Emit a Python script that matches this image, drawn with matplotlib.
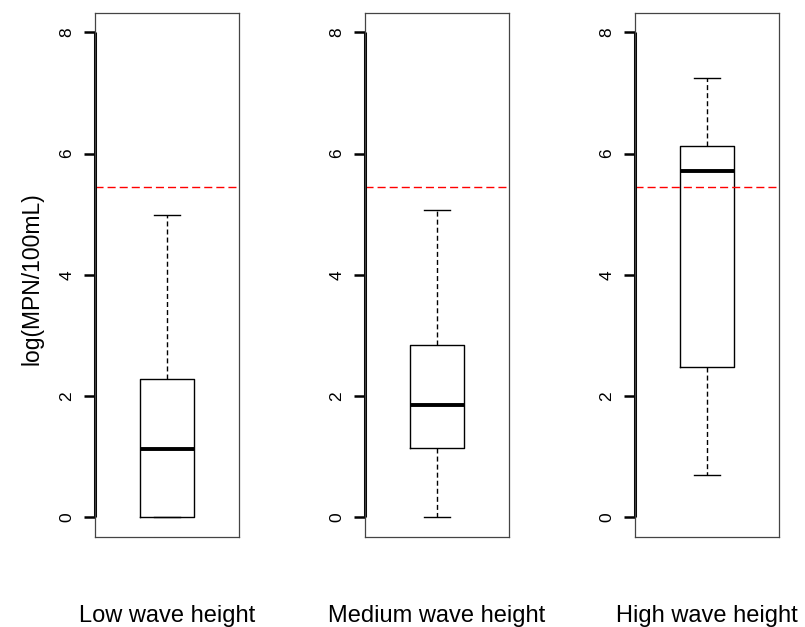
import numpy as np
import matplotlib
matplotlib.use('Agg')
from matplotlib import pyplot as plt

# box statistics (log MPN/100mL)
groups = ['Low wave height', 'Medium wave height', 'High wave height']
whislo = [0.0, 0.0, 0.69]
q1 = [0.0, 1.14, 2.48]
med = [1.12, 1.85, 5.72]
q3 = [2.28, 2.84, 6.12]
whishi = [4.98, 5.07, 7.25]
threshold = 5.45
yticks = [0, 2, 4, 6, 8]

plt.rcParams['font.family'] = ['Liberation Sans', 'DejaVu Sans']

fig = plt.figure(figsize=(8.05, 6.27), dpi=100)
W, H = 805.0, 627.0
lefts = [95, 365, 635]
top, bottom, width = 13.0, 536.7, 144.0

for i in range(3):
    ax = fig.add_axes([lefts[i] / W, 1 - bottom / H, width / W, (bottom - top) / H])
    stats = [{'med': med[i], 'q1': q1[i], 'q3': q3[i],
              'whislo': whislo[i], 'whishi': whishi[i], 'fliers': []}]
    ax.bxp(stats, positions=[1], widths=0.4, showfliers=False,
           boxprops=dict(color='black', linewidth=1.0),
           medianprops=dict(color='black', linewidth=2.8, solid_capstyle='butt'),
           whiskerprops=dict(color='black', linewidth=1.0, linestyle=(0, (3.6, 2.2))),
           capprops=dict(color='black', linewidth=1.0), capwidths=0.2)
    ax.axhline(threshold, color='red', linewidth=1.0, linestyle=(0, (5.8, 2.9)))
    ax.set_xlim(0.46, 1.54)
    ax.set_ylim(-0.32, 8.32)
    ax.set_xticks([])
    ax.set_yticks(yticks)
    ax.set_yticklabels([str(t) for t in yticks], rotation=90, va='center', fontsize=12.5)
    ax.tick_params(axis='y', length=8, width=1.8, pad=7, colors='black')
    for s in ax.spines.values():
        s.set_color('#444444')
        s.set_linewidth(0.9)
    # R style axis line from first to last tick
    ax.plot([0.46, 0.46], [0, 8], color='black', linewidth=2.2, clip_on=False,
            solid_capstyle='butt')
    fig.text((lefts[i] + width / 2) / W, 1 - 622 / H, groups[i], ha='center',
             va='baseline', fontsize=17)

fig.text(32 / W, 1 - 279 / H, 'log(MPN/100mL)', rotation=90, ha='center',
         va='center', fontsize=16.5)

fig.savefig('out.png', dpi=100)
